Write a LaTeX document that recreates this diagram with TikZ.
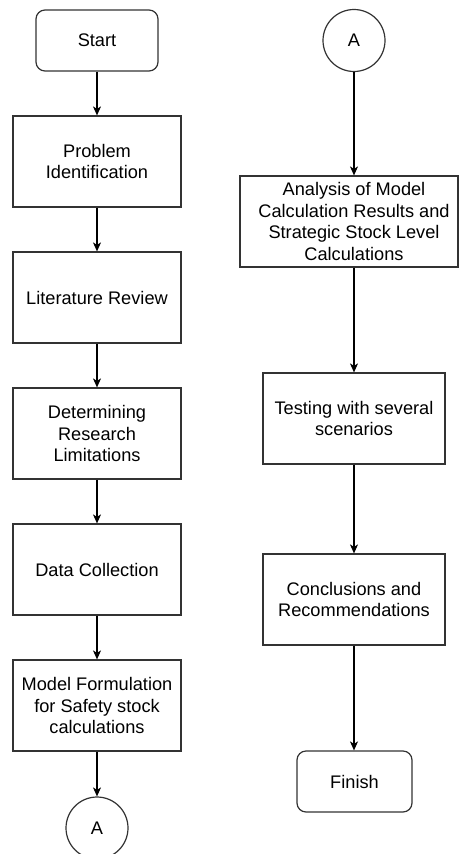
\documentclass[tikz,border=0pt]{standalone}
\usepackage{fontspec}
\setmainfont{Liberation Sans}
\usetikzlibrary{arrows.meta}
\definecolor{ln}{HTML}{333333}
\begin{document}
\begin{tikzpicture}[x=1pt,y=-1pt,
  base/.style={draw=ln,line width=1.2pt,align=center,inner sep=0pt,
    font=\fontsize{18.2}{21.7}\selectfont,text=black},
  stepbox/.style={base,rectangle,minimum height=91pt},
  term/.style={base,rectangle,rounded corners=9pt,minimum height=61pt},
  conn/.style={base,circle,minimum size=62pt},
  arr/.style={draw=black,line width=1.2pt,-{Stealth[length=9pt,width=8pt,inset=2.5pt]}}]
\path[use as bounding box] (0,0) rectangle (459,854);
\clip (0,0) rectangle (459,854);
% left column
\node[term,minimum width=122pt] (start) at (97,40.5) {Start};
\node[stepbox,minimum width=168pt] (prob) at (97,161.5) {Problem\\Identification};
\node[stepbox,minimum width=168pt] (lit) at (97,297.5) {Literature Review};
\node[stepbox,minimum width=168pt] (det) at (97,433.5) {Determining\\Research\\Limitations};
\node[stepbox,minimum width=168pt] (data) at (97,569.5) {Data Collection};
\node[stepbox,minimum width=168pt] (model) at (97,705.5) {Model Formulation\\for Safety stock\\calculations};
\node[conn] (a1) at (97,828) {A};
% right column
\node[conn] (a2) at (354,40.5) {A};
\node[stepbox,minimum width=218pt] (ana) at (349,221.5) {\hspace*{10pt}Analysis of Model\\\hspace*{10pt}Calculation Results and\\\hspace*{10pt}Strategic Stock Level\\\hspace*{10pt}Calculations};
\node[stepbox,minimum width=182pt] (test) at (354,418.5) {Testing with several\\scenarios};
\node[stepbox,minimum width=182pt] (conc) at (354,599.5) {Conclusions and\\Recommendations};
\node[term,minimum width=115pt] (fin) at (354.5,781.5) {Finish};
% connectors
\draw[arr] (start) -- (prob);
\draw[arr] (prob) -- (lit);
\draw[arr] (lit) -- (det);
\draw[arr] (det) -- (data);
\draw[arr] (data) -- (model);
\draw[arr] (model) -- (a1);
\draw[arr] (a2.south) -- (a2.south |- ana.north);
\draw[arr] (a2.south |- ana.south) -- (test.north);
\draw[arr] (test) -- (conc);
\draw[arr] (conc.south) -- (conc.south |- fin.north);
\end{tikzpicture}
\end{document}
